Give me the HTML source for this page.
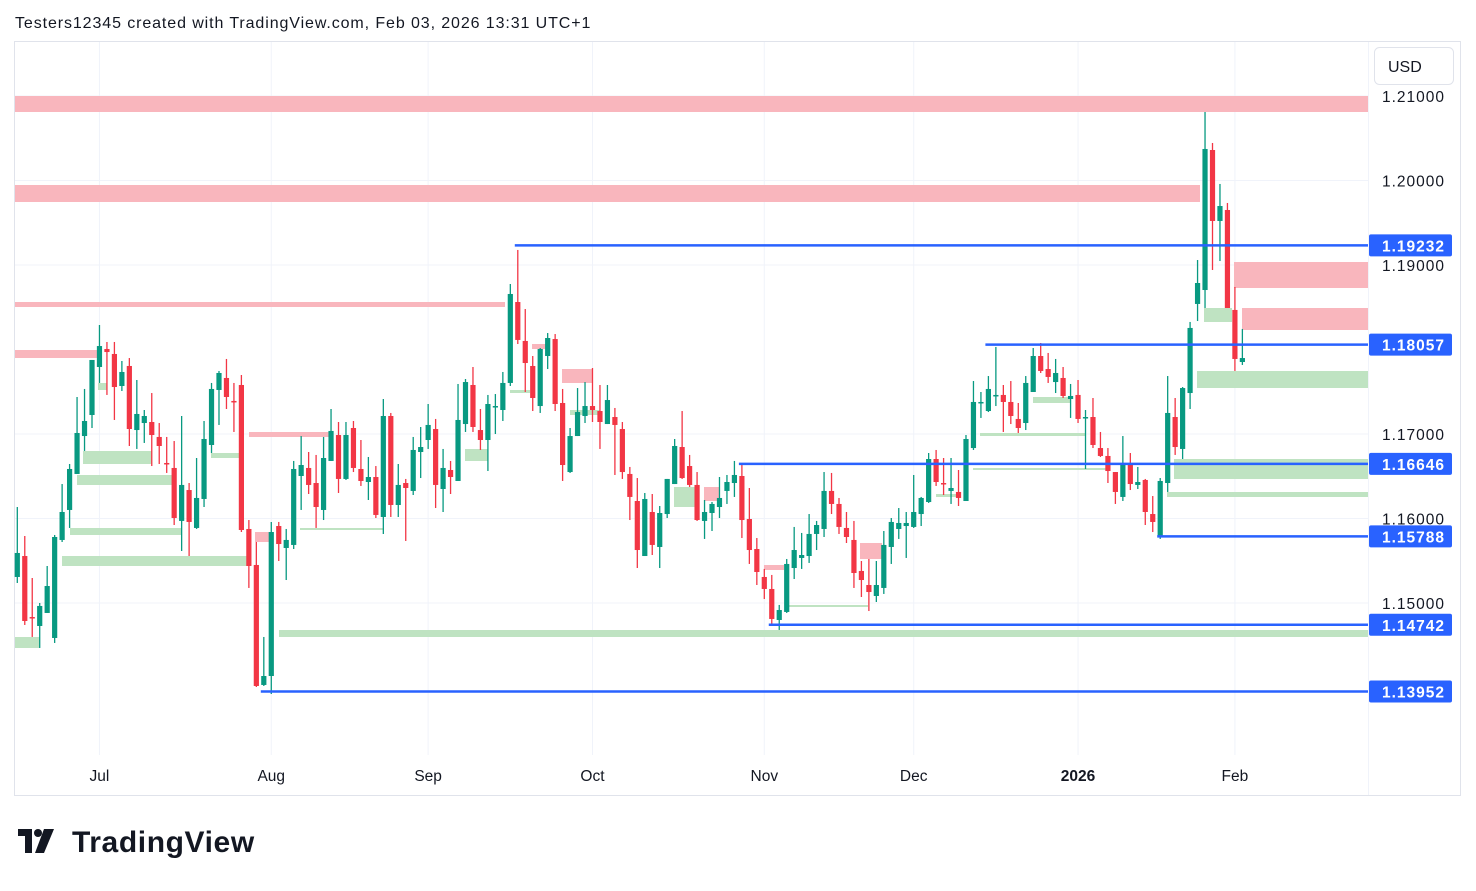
<!DOCTYPE html>
<html><head><meta charset="utf-8">
<style>
body{margin:0;background:#fff;width:1476px;height:886px;overflow:hidden;font-family:"Liberation Sans",sans-serif;}
svg text{font-family:"Liberation Sans",sans-serif;}
</style></head>
<body>
<svg id="c" width="1476" height="886" xmlns="http://www.w3.org/2000/svg">
<rect x="0" y="0" width="1476" height="886" fill="#fff"/>
<text x="15" y="28" font-size="16" letter-spacing="0.9" fill="#131722">Testers12345 created with TradingView.com, Feb 03, 2026 13:31 UTC+1</text>
<rect x="14.5" y="41.5" width="1446" height="754" fill="none" stroke="#e0e3eb"/>
<line x1="1368.5" y1="42" x2="1368.5" y2="795" stroke="#f0f3fa"/>
<g id="grid"></g>
<g id="zones"></g>
<g id="candles"></g>
<g id="levels"></g>
<g id="axes"></g>
<rect x="1374.5" y="47.5" width="79" height="37" rx="5" fill="#fff" stroke="#e0e3eb"/>
<text x="1388" y="72" font-size="16" fill="#131722">USD</text>
<g>
<path d="M18 829 h14 v24 h-7 v-17 h-7z" fill="#131722"/>
<circle cx="38" cy="833" r="4" fill="#131722"/>
<path d="M44 829 h10 l-10 24 h-9z" fill="#131722"/>
<text x="72" y="852" font-size="30" font-weight="bold" letter-spacing="0.6" fill="#131722">TradingView</text>
</g>
</svg>
<script>
const opens=[1.15308,1.15556,1.14834,1.14728,1.14882,1.14586,1.15746,1.16101,1.16527,1.16976,1.17225,1.17793,1.18006,1.17947,1.17568,1.17805,1.17047,1.17130,1.17142,1.16965,1.16657,1.16598,1.15971,1.16337,1.15888,1.16231,1.16870,1.17521,1.17663,1.17391,1.17580,1.15876,1.15450,1.14030,1.14136,1.15911,1.15651,1.15687,1.16503,1.16598,1.16420,1.16101,1.16681,1.16988,1.16468,1.17071,1.16586,1.16432,1.16491,1.16018,1.17213,1.16160,1.16420,1.16326,1.16787,1.16929,1.17059,1.16349,1.16574,1.16444,1.17118,1.17580,1.17047,1.16929,1.17320,1.17284,1.17604,1.18562,1.18101,1.17805,1.17331,1.17923,1.18124,1.17367,1.16550,1.16976,1.17213,1.17331,1.17272,1.17118,1.17201,1.17059,1.16527,1.16207,1.15556,1.16077,1.15663,1.16053,1.16408,1.16846,1.16621,1.16397,1.15971,1.16065,1.16136,1.16326,1.16420,1.16503,1.15994,1.15639,1.15308,1.15166,1.14799,1.14894,1.15414,1.15533,1.15556,1.15817,1.15876,1.16326,1.16172,1.15888,1.15746,1.15379,1.15213,1.15083,1.15178,1.15663,1.15876,1.15911,1.15900,1.16053,1.16195,1.16704,1.16420,1.16326,1.16314,1.16207,1.16834,1.17367,1.17272,1.17450,1.17462,1.17379,1.17178,1.17130,1.17497,1.17923,1.17769,1.17615,1.17663,1.17414,1.17462,1.17190,1.17201,1.16834,1.16740,1.16550,1.16255,1.16657,1.16397,1.16456,1.16053,1.15781,1.16420,1.17201,1.16823,1.17485,1.18539,1.18704,1.20361,1.19521,1.19651,1.18468,1.17852];
const highs=[1.16136,1.15793,1.15296,1.15000,1.15438,1.15805,1.16408,1.16645,1.17438,1.17533,1.17876,1.18290,1.18089,1.18089,1.17864,1.17899,1.17639,1.17284,1.17485,1.17130,1.16965,1.16917,1.17213,1.16420,1.16716,1.17154,1.17604,1.17746,1.17888,1.17604,1.17698,1.15982,1.15722,1.14598,1.15959,1.15959,1.15876,1.16681,1.16976,1.16787,1.16752,1.16965,1.17296,1.17142,1.17142,1.17154,1.16929,1.16728,1.16621,1.17414,1.17249,1.16645,1.16468,1.16965,1.17083,1.17355,1.17178,1.16823,1.16681,1.17592,1.17651,1.17793,1.17296,1.17462,1.17473,1.17734,1.18775,1.19178,1.18479,1.17923,1.18018,1.18195,1.18183,1.17533,1.17071,1.17544,1.17615,1.17781,1.17580,1.17580,1.17308,1.17142,1.16610,1.16479,1.16302,1.16290,1.16148,1.16468,1.16941,1.17272,1.16752,1.16550,1.16219,1.16195,1.16491,1.16515,1.16681,1.16645,1.16361,1.15769,1.15403,1.15332,1.14977,1.15521,1.15900,1.15829,1.16053,1.15971,1.16550,1.16539,1.16243,1.16077,1.15971,1.15497,1.15521,1.15497,1.15852,1.16006,1.16124,1.16077,1.16515,1.16255,1.16775,1.16811,1.16716,1.16716,1.16574,1.16988,1.17627,1.17497,1.17686,1.18030,1.17580,1.17627,1.17367,1.17686,1.18018,1.18077,1.17959,1.17888,1.17793,1.17592,1.17639,1.17284,1.17426,1.17024,1.16834,1.16550,1.16976,1.16775,1.16610,1.16468,1.16266,1.16479,1.17686,1.17426,1.17556,1.18326,1.19059,1.20811,1.20444,1.19959,1.19734,1.18740,1.18243];
const lows=[1.15237,1.14740,1.14598,1.14468,1.14882,1.14527,1.15722,1.15888,1.16527,1.16799,1.17071,1.17604,1.17462,1.17166,1.17509,1.16858,1.16823,1.16894,1.16621,1.16645,1.16539,1.15923,1.15616,1.15556,1.15876,1.16136,1.16775,1.17107,1.17296,1.17024,1.15840,1.15178,1.14006,1.14018,1.13923,1.15497,1.15272,1.15639,1.16101,1.16290,1.15888,1.15982,1.16681,1.16302,1.16456,1.16550,1.16385,1.16219,1.16006,1.15817,1.16018,1.16018,1.15734,1.16278,1.16479,1.16823,1.16124,1.16077,1.16290,1.16444,1.17024,1.17024,1.16811,1.16562,1.17000,1.17154,1.17568,1.18065,1.17497,1.17272,1.17249,1.17769,1.17272,1.16444,1.16539,1.16976,1.17130,1.17142,1.16823,1.17118,1.16515,1.16468,1.15982,1.15414,1.15556,1.15568,1.15414,1.16006,1.16408,1.16468,1.16373,1.15971,1.15758,1.15852,1.16006,1.16172,1.16255,1.15769,1.15462,1.15213,1.15047,1.14740,1.14681,1.14882,1.15284,1.15403,1.15474,1.15627,1.15781,1.16053,1.15817,1.15710,1.15178,1.15071,1.14905,1.15012,1.15107,1.15462,1.15758,1.15533,1.15888,1.15911,1.16184,1.16385,1.16278,1.16172,1.16148,1.16207,1.16811,1.17190,1.17260,1.17331,1.17024,1.17118,1.17012,1.17047,1.17497,1.17722,1.17604,1.17485,1.17426,1.17190,1.17130,1.16586,1.16834,1.16728,1.16420,1.16172,1.16207,1.16337,1.16349,1.15923,1.15840,1.15758,1.16314,1.16752,1.16704,1.17296,1.18337,1.18491,1.18941,1.19047,1.18491,1.17746,1.17817];
const closes=[1.15592,1.14787,1.14823,1.14965,1.15201,1.15781,1.16077,1.16586,1.17012,1.17154,1.17876,1.18041,1.17970,1.17556,1.17734,1.17059,1.17237,1.17213,1.16988,1.16858,1.16645,1.16006,1.16397,1.15959,1.16243,1.16941,1.17533,1.17722,1.17438,1.17379,1.15864,1.15438,1.14018,1.14136,1.15840,1.15698,1.15746,1.16586,1.16633,1.16397,1.16136,1.16716,1.17036,1.16468,1.16988,1.16598,1.16444,1.16491,1.16042,1.17213,1.16160,1.16397,1.16361,1.16811,1.16846,1.17107,1.16397,1.16598,1.16491,1.17166,1.17615,1.17083,1.16929,1.17355,1.17331,1.17604,1.18657,1.18113,1.17840,1.17426,1.18006,1.18136,1.17355,1.16633,1.16976,1.17260,1.17331,1.17284,1.17142,1.17402,1.17107,1.16550,1.16255,1.15627,1.16231,1.15687,1.16065,1.16468,1.16858,1.16479,1.16397,1.15982,1.16077,1.16172,1.16243,1.16432,1.16515,1.15982,1.15627,1.15367,1.15166,1.14811,1.14917,1.15462,1.15627,1.15568,1.15817,1.15923,1.16326,1.16172,1.15900,1.15781,1.15355,1.15272,1.15130,1.15213,1.15687,1.15959,1.15947,1.15947,1.16077,1.16243,1.16704,1.16432,1.16408,1.16361,1.16243,1.16941,1.17379,1.17379,1.17533,1.17462,1.17379,1.17213,1.17071,1.17604,1.17923,1.17746,1.17675,1.17722,1.17450,1.17450,1.17178,1.17201,1.16870,1.16740,1.16562,1.16314,1.16657,1.16408,1.16432,1.16077,1.15959,1.16444,1.17249,1.16846,1.17544,1.18255,1.18787,1.20373,1.19521,1.19698,1.18491,1.17888,1.17899];
const priceTicks=[1.21,1.20,1.19,1.17,1.16,1.15];
const priceTickLabels=["1.21000","1.20000","1.19000","1.17000","1.16000","1.15000"];
const timeTickIdx=[11,34,55,77,100,120,142,163];
const timeTickLabels=["Jul","Aug","Sep","Oct","Nov","Dec","2026","Feb"];
const levelPrices=[1.19232,1.18057,1.16646,1.15788,1.14742,1.13952];
const levelStartIdx=[67,130,97,153,101,33];

const NS="http://www.w3.org/2000/svg";
const X=i=>17.3+i*7.47;
const Y=p=>96+(1.21-p)*8450;
function mk(tag,attrs,parent){const e=document.createElementNS(NS,tag);for(const k in attrs)e.setAttribute(k,attrs[k]);parent.appendChild(e);return e;}
const grid=document.getElementById('grid'),zones=document.getElementById('zones'),cg=document.getElementById('candles'),lv=document.getElementById('levels'),ax=document.getElementById('axes');

priceTicks.forEach((p,k)=>{
 const l=mk('line',{x1:15,x2:1368,y1:Y(p),y2:Y(p),stroke:'#f0f3fa','stroke-width':1},grid);
 
 
 const t=mk('text',{x:1382,y:Y(p)+6,'font-size':15.5,'letter-spacing':1,fill:'#131722'},ax);
 t.textContent=priceTickLabels[k];
 
 
});
timeTickIdx.forEach((i,k)=>{
 const l=mk('line',{x1:X(i),x2:X(i),y1:42,y2:755,stroke:'#f0f3fa','stroke-width':1},grid);
 
 
 const t=mk('text',{x:X(i),y:781,'font-size':15.5,fill:'#131722','text-anchor':'middle','font-weight':k==6?'bold':'normal'},ax);
 t.textContent=timeTickLabels[k];
 
 
});

const zoneRects=[
[15,96,1368,112,'r'],[15,185,1200,202,'r'],[15,302,505,307,'r'],[15,350,97,358,'r'],[249,432,330,437,'r'],
[1234,262,1368,288,'r'],[1242,308,1368,330,'r'],[562,369,592,383,'r'],[704,487,719,501,'r'],[764,565,784,570,'r'],[860,543,882,559,'r'],[255,532,270,542,'r'],[532,344,547,349,'r'],
[279,630,1368,637,'g'],[62,556,248,566,'g'],[70,528,182,535,'g'],[77,475,174,485,'g'],[83,451,152,464,'g'],[211,453,240,458,'g'],[98,383,107,390,'g'],[15,637,40,648,'g'],
[1204,308,1232,322,'g'],[1197,371,1368,388,'g'],[1174,459,1368,479,'g'],[1167,492,1368,497,'g'],[465,449,488,461,'g'],[674,487,695,507,'g'],[300,528,383,530,'g'],
[980,433,1085,436,'g'],[1033,397,1070,403,'g'],[973,468,1110,470,'g'],[510,390,530,393,'g'],[570,410,600,415,'g'],[786,605,868,607,'g'],[936,494,958,497,'g']
];
zoneRects.forEach(z=>{
 const r=mk('rect',{x:z[0],y:z[1],width:z[2]-z[0],height:z[3]-z[1],fill:z[4]=='r'?'#f9b6bd':'#bfe3c2'},zones);
 
 
});

for(let i=0;i<opens.length;i++){
 const up=closes[i]>=opens[i];const col=up?'#089981':'#F23645';
 const x=X(i);
 const w=mk('line',{x1:x,x2:x,y1:Y(highs[i]),y2:Y(lows[i]),stroke:col,'stroke-width':1.3},cg);
 
 
 const t=Y(Math.max(opens[i],closes[i])),b=Y(Math.min(opens[i],closes[i]));
 const r=mk('rect',{x:x-2.6,y:t,width:5.2,height:Math.max(1.5,b-t),fill:col},cg);
 
 
}

levelPrices.forEach((p,k)=>{
 const l=mk('line',{x1:X(levelStartIdx[k])-3,x2:1368,y1:Y(p),y2:Y(p),stroke:'#2962FF','stroke-width':2.5},lv);
 
 
 const r=mk('rect',{x:1369,y:Y(p)-11,width:83,height:22,rx:2,fill:'#2962FF'},lv);
 
 
 const t=mk('text',{x:1382,y:Y(p)+6,'font-size':15.5,'font-weight':'bold','letter-spacing':1,fill:'#fff'},lv);
 t.textContent=p.toFixed(5);
 
 
});
</script>
</body></html>
